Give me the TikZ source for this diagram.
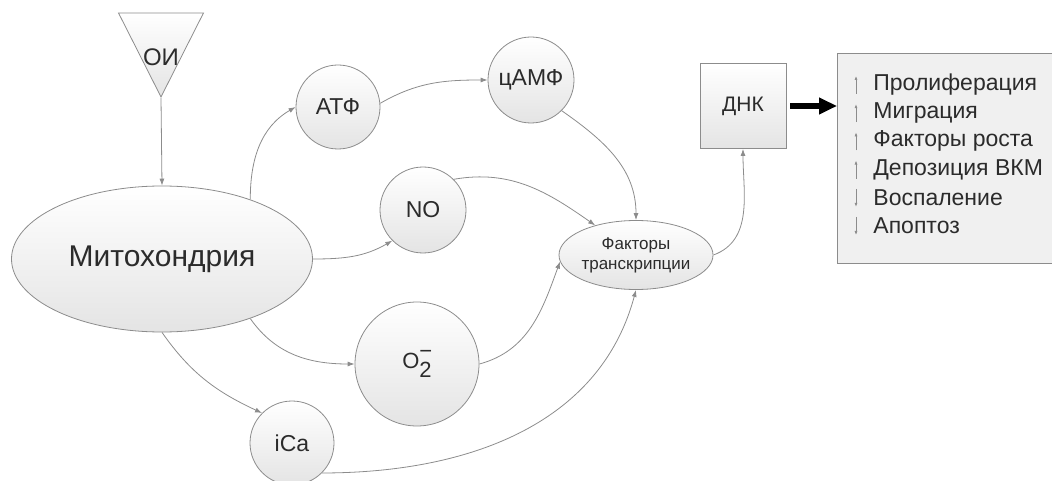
\documentclass[tikz,border=0pt]{standalone}
\usepackage{fontspec}
\setmainfont{Liberation Sans}
\usetikzlibrary{arrows.meta, positioning, shapes.geometric}
\definecolor{cedge}{HTML}{8C8C8C}
\definecolor{ctext}{HTML}{2B2B2B}
\definecolor{cshade}{HTML}{E4E4E4}
\definecolor{cpanel}{HTML}{F0F0F0}
\tikzset{
  every picture/.style={x=1pt, y=1pt, line width=0.8pt},
  blob/.style={draw=cedge, top color=white, bottom color=cshade, text=ctext, inner sep=0pt, align=center},
  ball/.style={blob, circle, minimum size=#1, font=\fontsize{23}{26}\selectfont},
  link/.style={-{Latex[length=7pt,width=5pt]}, draw=cedge},
  bigarrow/.style={-{Triangle[length=18pt,width=16pt]}, draw=black, line width=6pt},
  item/.style={anchor=west, inner sep=0pt, text=ctext, font=\fontsize{23}{26}\selectfont},
  tick/.style={-{Latex[length=4pt,width=3pt]}, draw=cedge, line width=0.7pt},
}

\begin{document}
\begin{tikzpicture}
  \useasboundingbox (0,0) rectangle (1052,-481);
  % sources
  \node[blob, isosceles triangle, isosceles triangle stretches, shape border rotate=-90,
        minimum width=85, minimum height=84, anchor=apex] (oi) at (161,-98) {};
  \node[text=ctext, font=\fontsize{24}{27}\selectfont] (oi-text) at (161,-57) {ОИ};
  \node[blob, ellipse, minimum width=301, minimum height=146, font=\fontsize{30}{34}\selectfont] (mito) at (162,-259) {Митохондрия};
  % messengers
  \node[ball=84] (atf) at (338,-107) {АТФ};
  \node[ball=86] (camf) at (531,-80) {цАМФ};
  \node[ball=86] (no) at (423,-210) {NO};
  \node[ball=124, font=\fontsize{22}{26}\selectfont] (sox) at (417,-364)
    {O\rlap{\raisebox{0.45em}{−}}\raisebox{-0.45em}{2}};
  \node[ball=84] (ica) at (292,-443) {iCa};
  % targets
  \node[blob, ellipse, minimum width=139, minimum height=69, font=\fontsize{17}{20}\selectfont] (fak) at (636,-255) {Факторы\\транскрипции};
  \node[blob, rectangle, minimum width=86, minimum height=85, font=\fontsize{21}{24}\selectfont] (dnk) at (743,-106) {ДНК};
  \node[draw=cedge, fill=cpanel, minimum width=222, minimum height=210, anchor=north west] (effects) at (837,-53) {};

  \draw[link] (oi.apex) -- (mito.north);
  \draw[link] (mito.34) to[out=90, in=210] (atf.west);
  \draw[link] (atf.5) to[out=30, in=180] (camf.west);
  \draw[link] (camf.-45) to[out=-35, in=90] (fak.north);
  \draw[link] (mito.east) to[out=0, in=210] (no.225);
  \draw[link] (no.45) to[out=10, in=145] (fak.144);
  \draw[link] (mito.-34) to[out=-55, in=180] (sox.west);
  \draw[link] (sox.east) to[out=15, in=250] (fak.185);
  \draw[link] (mito.south) to[out=-55, in=155] (ica.135);
  \draw[link] (ica.-45) to[out=0, in=255] (fak.south);
  \draw[link] (fak.east) to[out=20, in=270] (dnk.south);
  \draw[bigarrow, shorten <=4pt] (dnk.east) -- (dnk.east -| effects.west);

  % effects list
  \foreach \t/\s [count=\i] in {Пролиферация/1, Миграция/1, Факторы роста/1, Депозиция ВКМ/1, Воспаление/-1, Апоптоз/-1} {
    \node[item] (item\i) at (873, {-85-28.2*(\i-1)}) {\t};
    \draw[tick] ([xshift=-17, yshift={-9*\s}]item\i.west) -- ([xshift=-17, yshift={9*\s}]item\i.west);
  }
\end{tikzpicture}
\end{document}
